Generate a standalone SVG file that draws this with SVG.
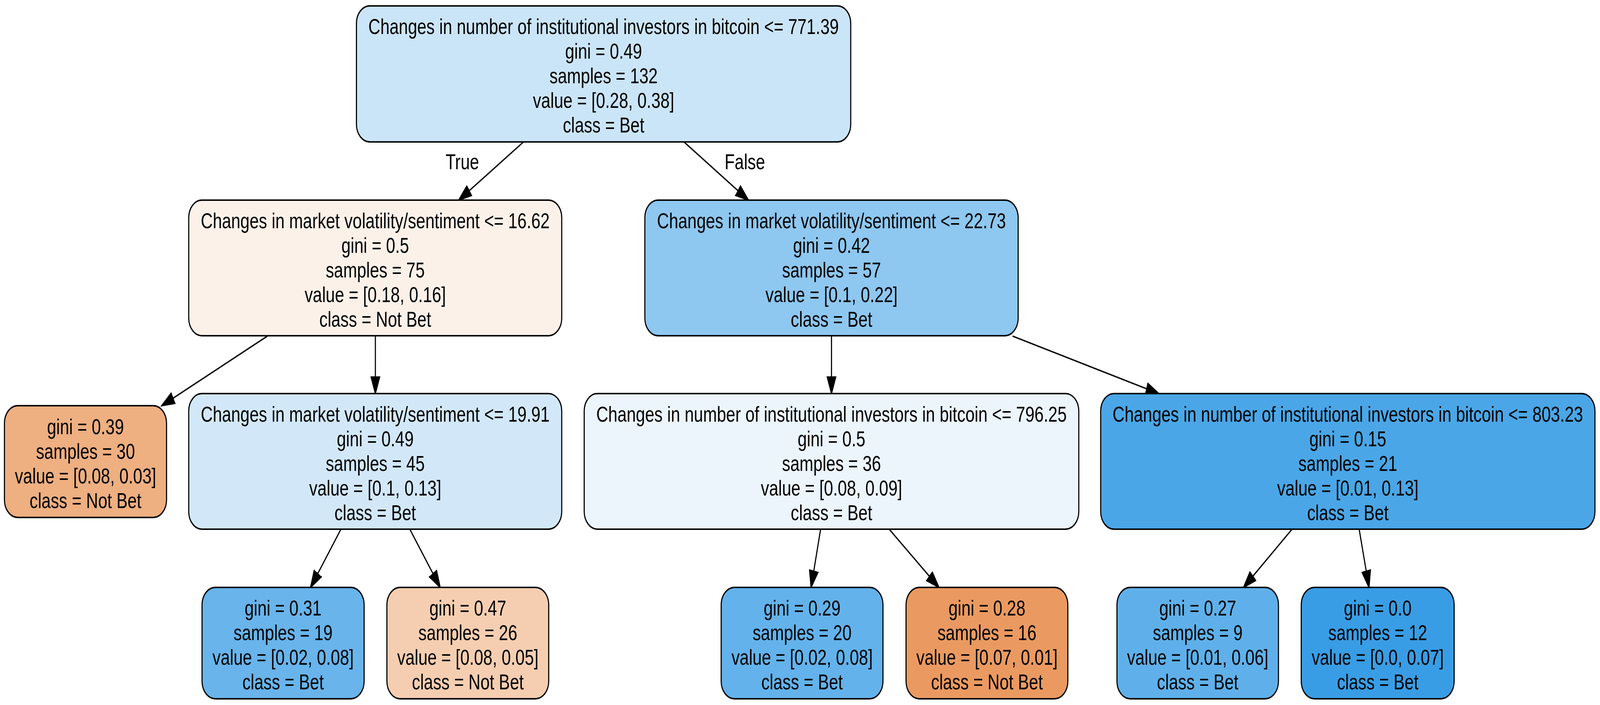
<svg xmlns="http://www.w3.org/2000/svg" width="5409" height="1804" viewBox="0 0 5409 1804" preserveAspectRatio="none" style="width:100vw;height:100vh;display:block">
<style>
.box{stroke:#000;stroke-width:3.75}
text{font-family:"Liberation Sans",Arial,Helvetica,sans-serif;font-size:56px;fill:#000;text-anchor:middle}
.edge{stroke:#000;stroke-width:3.75;fill:none;marker-end:url(#arr)}
</style>
<defs>
<marker id="arr" markerUnits="userSpaceOnUse" markerWidth="60" markerHeight="40" viewBox="0 -20 60 40" refX="44" refY="0" orient="auto">
<path d="M0,-15 L44,0 L0,15 Z" fill="#000" stroke="#000" stroke-width="3.75"/>
</marker>
</defs>
<rect width="5409" height="1804" fill="#fff"/>
<g id="connectors">
<path class="edge" d="M1770,363 L1551,512"/>
<path class="edge" d="M2312,363 L2530,512"/>
<path class="edge" d="M904,860 L547,1038"/>
<path class="edge" d="M1269,860 L1269,1007"/>
<path class="edge" d="M2811,860 L2811,1007"/>
<path class="edge" d="M3423,860 L3917,1007"/>
<path class="edge" d="M1152,1355 L1050,1503"/>
<path class="edge" d="M1386,1355 L1488,1503"/>
<path class="edge" d="M2774,1355 L2742,1503"/>
<path class="edge" d="M3007,1355 L3174,1503"/>
<path class="edge" d="M4367,1355 L4204,1503"/>
<path class="edge" d="M4595,1355 L4628,1503"/>
<text x="1563" y="433">True</text>
<text x="2518" y="433">False</text>
</g>
<g id="node0">
<rect class="box" x="1205" y="15" width="1671" height="348" rx="45" ry="45" fill="#cbe5f8"/>
<text x="2040.5" y="87">Changes in number of institutional investors in bitcoin &lt;= 771.39</text>
<text x="2040.5" y="150">gini = 0.49</text>
<text x="2040.5" y="213">samples = 132</text>
<text x="2040.5" y="276">value = [0.28, 0.38]</text>
<text x="2040.5" y="339">class = Bet</text>
</g>
<g id="node1">
<rect class="box" x="638" y="512" width="1261" height="347" rx="45" ry="45" fill="#fcf1e9"/>
<text x="1268.5" y="584">Changes in market volatility/sentiment &lt;= 16.62</text>
<text x="1268.5" y="647">gini = 0.5</text>
<text x="1268.5" y="710">samples = 75</text>
<text x="1268.5" y="773">value = [0.18, 0.16]</text>
<text x="1268.5" y="836">class = Not Bet</text>
</g>
<g id="node2">
<rect class="box" x="15" y="1038" width="548" height="286" rx="45" ry="45" fill="#eeaf81"/>
<text x="289" y="1111">gini = 0.39</text>
<text x="289" y="1174">samples = 30</text>
<text x="289" y="1237">value = [0.08, 0.03]</text>
<text x="289" y="1300">class = Not Bet</text>
</g>
<g id="node3">
<rect class="box" x="638" y="1007" width="1261" height="347" rx="45" ry="45" fill="#d2e8f9"/>
<text x="1268.5" y="1079">Changes in market volatility/sentiment &lt;= 19.91</text>
<text x="1268.5" y="1142">gini = 0.49</text>
<text x="1268.5" y="1205">samples = 45</text>
<text x="1268.5" y="1268">value = [0.1, 0.13]</text>
<text x="1268.5" y="1331">class = Bet</text>
</g>
<g id="node4">
<rect class="box" x="683" y="1503" width="548" height="285" rx="45" ry="45" fill="#68b4eb"/>
<text x="957" y="1575">gini = 0.31</text>
<text x="957" y="1638">samples = 19</text>
<text x="957" y="1701">value = [0.02, 0.08]</text>
<text x="957" y="1764">class = Bet</text>
</g>
<g id="node5">
<rect class="box" x="1308" y="1503" width="547" height="285" rx="45" ry="45" fill="#f5ceb1"/>
<text x="1581.5" y="1575">gini = 0.47</text>
<text x="1581.5" y="1638">samples = 26</text>
<text x="1581.5" y="1701">value = [0.08, 0.05]</text>
<text x="1581.5" y="1764">class = Not Bet</text>
</g>
<g id="node6">
<rect class="box" x="2180" y="512" width="1262" height="347" rx="45" ry="45" fill="#8ec7f0"/>
<text x="2811" y="584">Changes in market volatility/sentiment &lt;= 22.73</text>
<text x="2811" y="647">gini = 0.42</text>
<text x="2811" y="710">samples = 57</text>
<text x="2811" y="773">value = [0.1, 0.22]</text>
<text x="2811" y="836">class = Bet</text>
</g>
<g id="node7">
<rect class="box" x="1975" y="1007" width="1672" height="347" rx="45" ry="45" fill="#ecf5fc"/>
<text x="2811" y="1079">Changes in number of institutional investors in bitcoin &lt;= 796.25</text>
<text x="2811" y="1142">gini = 0.5</text>
<text x="2811" y="1205">samples = 36</text>
<text x="2811" y="1268">value = [0.08, 0.09]</text>
<text x="2811" y="1331">class = Bet</text>
</g>
<g id="node8">
<rect class="box" x="2438" y="1503" width="547" height="285" rx="45" ry="45" fill="#63b2eb"/>
<text x="2711.5" y="1575">gini = 0.29</text>
<text x="2711.5" y="1638">samples = 20</text>
<text x="2711.5" y="1701">value = [0.02, 0.08]</text>
<text x="2711.5" y="1764">class = Bet</text>
</g>
<g id="node9">
<rect class="box" x="3063" y="1503" width="547" height="285" rx="45" ry="45" fill="#ea9a61"/>
<text x="3336.5" y="1575">gini = 0.28</text>
<text x="3336.5" y="1638">samples = 16</text>
<text x="3336.5" y="1701">value = [0.07, 0.01]</text>
<text x="3336.5" y="1764">class = Not Bet</text>
</g>
<g id="node10">
<rect class="box" x="3721" y="1007" width="1671" height="347" rx="45" ry="45" fill="#4ba6e7"/>
<text x="4556.5" y="1079">Changes in number of institutional investors in bitcoin &lt;= 803.23</text>
<text x="4556.5" y="1142">gini = 0.15</text>
<text x="4556.5" y="1205">samples = 21</text>
<text x="4556.5" y="1268">value = [0.01, 0.13]</text>
<text x="4556.5" y="1331">class = Bet</text>
</g>
<g id="node11">
<rect class="box" x="3776" y="1503" width="546" height="285" rx="45" ry="45" fill="#5fb0ea"/>
<text x="4049" y="1575">gini = 0.27</text>
<text x="4049" y="1638">samples = 9</text>
<text x="4049" y="1701">value = [0.01, 0.06]</text>
<text x="4049" y="1764">class = Bet</text>
</g>
<g id="node12">
<rect class="box" x="4399" y="1503" width="517" height="285" rx="45" ry="45" fill="#399de5"/>
<text x="4657.5" y="1575">gini = 0.0</text>
<text x="4657.5" y="1638">samples = 12</text>
<text x="4657.5" y="1701">value = [0.0, 0.07]</text>
<text x="4657.5" y="1764">class = Bet</text>
</g>
</svg>
